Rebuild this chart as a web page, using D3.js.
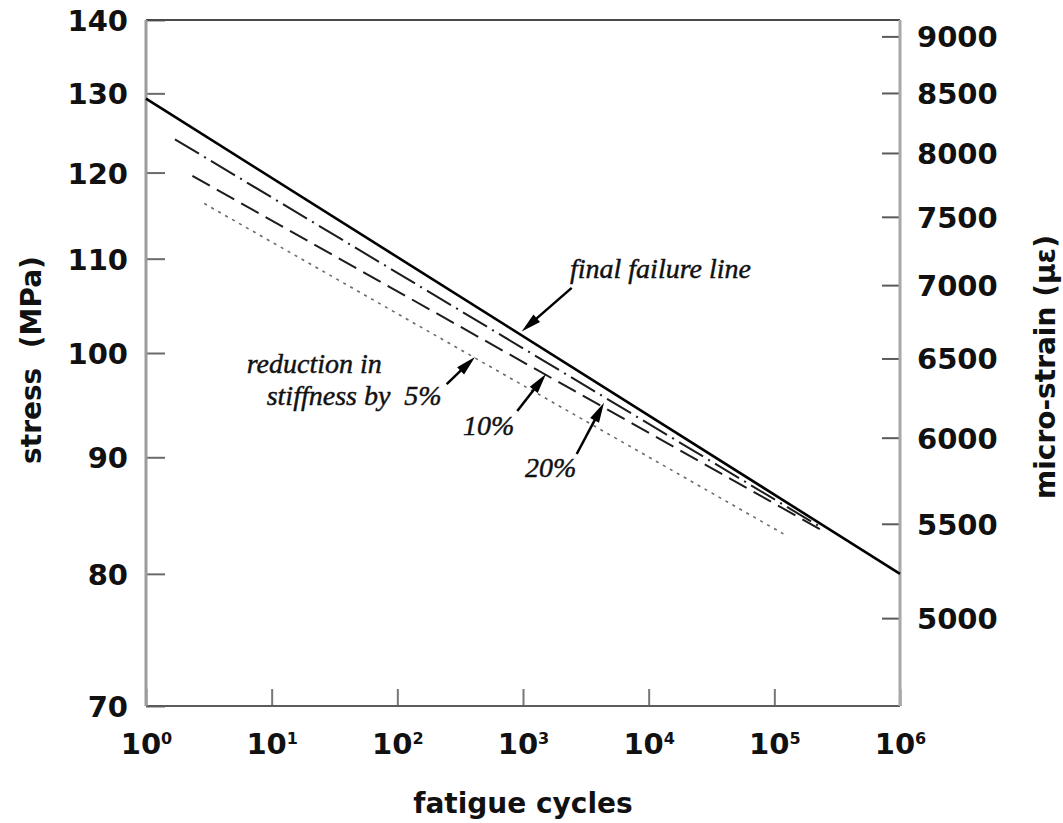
<!DOCTYPE html>
<html>
<head>
<meta charset="utf-8">
<script src="https://cdn.jsdelivr.net/npm/d3@7"></script>
<style>
  html, body { margin: 0; padding: 0; background: #fff; }
  svg { display: block; }
  .sans { font-family: "DejaVu Sans", sans-serif; font-weight: bold; fill: #111; }
  .note { font-family: "Liberation Serif", "Times New Roman", serif; font-style: italic; fill: #111;
          stroke: #111; stroke-width: 0.45; }
</style>
</head>
<body>
<svg id="chart" width="1063" height="823"></svg>
<script>
// ---- data ----------------------------------------------------------------
// fatigue cycles axis: decade exponents (10^0 ... 10^6)
const cycleExponents = [0, 1, 2, 3, 4, 5, 6];
// left axis: stress (MPa)
const stressTicks = [70, 80, 90, 100, 110, 120, 130, 140];
// right axis: micro-strain
const strainTicks = [5000, 5500, 6000, 6500, 7000, 7500, 8000, 8500, 9000];
// elastic modulus linking the two vertical axes (MPa)
const modulusMPa = 15300;

// S-N lines (straight on log-log axes): end points [cycles, stress MPa]
const finalCycles   = [1, 1e6];
const finalStress   = [129.3, 80.0];
const stiff20Cycles = [1.7, 2.31e5];
const stiff20Stress = [124.1, 83.9];
const stiff10Cycles = [2.34, 2.39e5];
const stiff10Stress = [119.6, 83.6];
const stiff5Cycles  = [2.91, 1.18e5];
const stiff5Stress  = [116.3, 83.3];

// annotation texts: [cycles, stress] of the text start (baseline)
const noteTexts  = ["final failure line", "reduction in", "stiffness by  5%", "10%", "20%"];
const noteCycles = [2366, 6.33, 9.13, 333, 1037];
const noteStress = [107.85, 97.97, 94.87, 92.03, 88.18];

// annotation arrows: tail -> tip, in [cycles, stress]
const arrowTailCycles = [2440, 247, 900, 2675];
const arrowTailStress = [106.8, 96.9, 94.3, 90.3];
const arrowTipCycles  = [976, 415, 1524, 4411];
const arrowTipStress  = [102.2, 99.6, 97.9, 95.1];

// ---- styles ----------------------------------------------------------------
const lineStyles = {
  final:   { stroke: "#000",    width: 2.6, dash: null },
  stiff20: { stroke: "#1c1c1c", width: 2.0, dash: "28,6,2,6" },
  stiff10: { stroke: "#1c1c1c", width: 2.0, dash: "20,8" },
  stiff5:  { stroke: "#6a6a6a", width: 1.6, dash: "3,5" }
};

// ---- layout ------------------------------------------------------------------
const plotLeft = 146, plotRight = 900, plotTop = 20, plotBottom = 706;
const tickFont = 29;

const svg = d3.select("#chart");

const x = d3.scaleLog().domain([1, 1e6]).range([plotLeft, plotRight]);
const y = d3.scaleLog().domain([70, 140]).range([plotBottom, plotTop]);
const yStrain = d3.scaleLog()
  .domain([70 / modulusMPa * 1e6, 140 / modulusMPa * 1e6])
  .range([plotBottom, plotTop]);

// ---- axes ----------------------------------------------------------------------
function cleanAxis(g) {
  g.attr("font-size", null).attr("font-family", null);
  g.select(".domain").remove();
}

// left: stress
const gLeft = svg.append("g")
  .attr("transform", `translate(${plotLeft},0)`)
  .call(d3.axisLeft(y).tickValues(stressTicks).tickSize(-19).tickSizeOuter(0)
        .tickPadding(18).tickFormat(d3.format("d")))
  .call(cleanAxis);
gLeft.selectAll(".tick line").attr("stroke", "#6a6a6a").attr("stroke-width", 2);
gLeft.selectAll(".tick text").attr("class", "sans").attr("font-size", tickFont)
  .attr("dy", "0.36em").attr("fill", "#111");

// right: micro-strain
const gRight = svg.append("g")
  .attr("transform", `translate(${plotRight},0)`)
  .call(d3.axisRight(yStrain).tickValues(strainTicks).tickSize(-18).tickSizeOuter(0)
        .tickPadding(17).tickFormat(d3.format("d")))
  .call(cleanAxis);
gRight.selectAll(".tick line").attr("stroke", "#5a5a5a").attr("stroke-width", 2);
gRight.selectAll(".tick text").attr("class", "sans").attr("font-size", tickFont)
  .attr("dy", "0.36em").attr("fill", "#111");

// bottom: fatigue cycles, labels as 10 with superscript exponent
const gBottom = svg.append("g")
  .attr("transform", `translate(0,${plotBottom})`)
  .call(d3.axisBottom(x).tickValues(cycleExponents.map(e => Math.pow(10, e)))
        .tickSize(-17).tickSizeOuter(0).tickFormat(() => ""))
  .call(cleanAxis);
gBottom.selectAll(".tick line").attr("stroke", "#777").attr("stroke-width", 2);
gBottom.selectAll(".tick text").remove();
gBottom.selectAll(".tick").each(function (d) {
  const t = d3.select(this).append("text")
    .attr("class", "sans")
    .attr("text-anchor", "middle")
    .attr("y", 48)
    .attr("font-size", tickFont);
  t.append("tspan").text("10");
  t.append("tspan").attr("font-size", 16).attr("dy", -10)
    .text(String(Math.round(Math.log10(d))));
});

// frame
const frame = svg.append("g").attr("fill", "none");
frame.append("line").attr("x1", x(1)).attr("x2", x(1e6)).attr("y1", y(140)).attr("y2", y(140))
  .attr("stroke", "#4a4a4a").attr("stroke-width", 2);
frame.append("line").attr("x1", x(1)).attr("x2", x(1e6)).attr("y1", y(70)).attr("y2", y(70))
  .attr("stroke", "#5c5c5c").attr("stroke-width", 2);
frame.append("line").attr("x1", x(1)).attr("x2", x(1)).attr("y1", y(140)).attr("y2", y(70))
  .attr("stroke", "#9c9c9c").attr("stroke-width", 3);
frame.append("line").attr("x1", x(1e6)).attr("x2", x(1e6)).attr("y1", y(140)).attr("y2", y(70))
  .attr("stroke", "#a8a8a8").attr("stroke-width", 3);

// ---- S-N lines -------------------------------------------------------------------
const series = [
  { key: "stiff5",  cycles: stiff5Cycles,  stress: stiff5Stress },
  { key: "stiff10", cycles: stiff10Cycles, stress: stiff10Stress },
  { key: "stiff20", cycles: stiff20Cycles, stress: stiff20Stress },
  { key: "final",   cycles: finalCycles,   stress: finalStress }
];
const line = d3.line().x(d => x(d[0])).y(d => y(d[1]));

svg.append("g").selectAll("path")
  .data(series)
  .join("path")
  .attr("d", s => line(d3.zip(s.cycles, s.stress)))
  .attr("fill", "none")
  .attr("stroke", s => lineStyles[s.key].stroke)
  .attr("stroke-width", s => lineStyles[s.key].width)
  .attr("stroke-dasharray", s => lineStyles[s.key].dash);

// ---- annotations -------------------------------------------------------------------
svg.append("g").selectAll("text")
  .data(noteTexts)
  .join("text")
  .attr("class", "note")
  .style("white-space", "pre")
  .attr("font-size", 28)
  .attr("x", (d, i) => x(noteCycles[i]))
  .attr("y", (d, i) => y(noteStress[i]))
  .text(d => d);

const arrows = svg.append("g");
arrowTipCycles.forEach((c, i) => {
  const tx = x(c), ty = y(arrowTipStress[i]);
  const sx = x(arrowTailCycles[i]), sy = y(arrowTailStress[i]);
  const ang = Math.atan2(ty - sy, tx - sx);
  const len = 20, half = 5;
  const bx = tx - len * Math.cos(ang), by = ty - len * Math.sin(ang);
  const px = -Math.sin(ang) * half, py = Math.cos(ang) * half;
  arrows.append("line")
    .attr("x1", sx).attr("y1", sy).attr("x2", bx + 2 * Math.cos(ang)).attr("y2", by + 2 * Math.sin(ang))
    .attr("stroke", "#000").attr("stroke-width", 2.5);
  arrows.append("path")
    .attr("d", `M${tx},${ty}L${bx + px},${by + py}L${bx - px},${by - py}Z`)
    .attr("fill", "#000");
});

// ---- axis titles -------------------------------------------------------------------
svg.append("text")
  .attr("class", "sans")
  .attr("font-size", 28)
  .attr("text-anchor", "middle")
  .attr("x", (plotLeft + plotRight) / 2)
  .attr("y", 813)
  .text("fatigue cycles");

svg.append("text")
  .attr("class", "sans")
  .attr("font-size", 28)
  .attr("text-anchor", "middle")
  .style("white-space", "pre")
  .attr("transform", `translate(41,360) rotate(-90)`)
  .text("stress  (MPa)");

svg.append("text")
  .attr("class", "sans")
  .attr("font-size", 28)
  .attr("text-anchor", "middle")
  .attr("transform", `translate(1055,367) rotate(-90)`)
  .text("micro-strain (\u00B5\u03B5)");
</script>
</body>
</html>
